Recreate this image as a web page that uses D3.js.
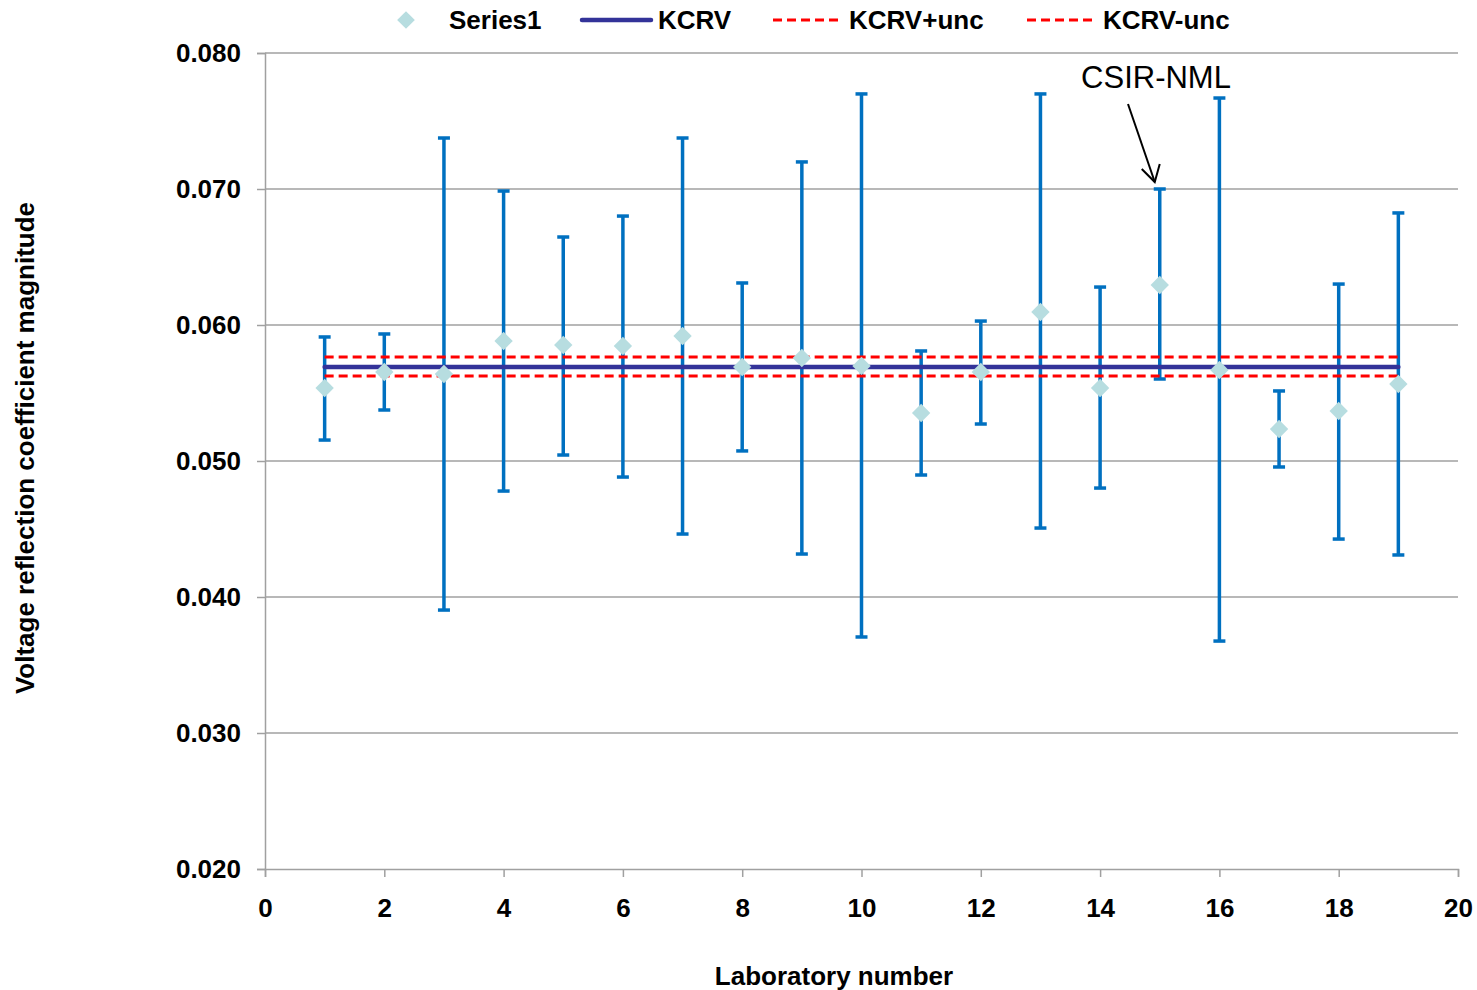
<!DOCTYPE html>
<html>
<head>
<meta charset="utf-8">
<script src="https://cdn.jsdelivr.net/npm/d3@7"></script>
<style>
  body { margin: 0; background: #fff; }
  svg { font-family: "Liberation Sans", Arial, sans-serif; }
</style>
</head>
<body>
<div id="chart"></div>
<script>
  // values
  var labs = [1, 2, 3, 4, 5, 6, 7, 8, 9, 10, 11, 12, 13, 14, 15, 16, 17, 18, 19];
  var values = [0.05537, 0.05654, 0.05640, 0.05882, 0.05853, 0.05846, 0.05919, 0.05691, 0.05757, 0.05699,
                0.05353, 0.05654, 0.06096, 0.05537, 0.06294, 0.05669, 0.05235, 0.05368, 0.05566];
  var upper = [0.05912, 0.05934, 0.07375, 0.06985, 0.06647, 0.06801, 0.07375, 0.06309, 0.07199, 0.07699,
               0.05809, 0.06029, 0.07699, 0.06279, 0.07000, 0.07669, 0.05515, 0.06301, 0.06824];
  var lower = [0.05154, 0.05375, 0.03904, 0.04779, 0.05044, 0.04882, 0.04463, 0.05074, 0.04316, 0.03706,
               0.04897, 0.05272, 0.04507, 0.04801, 0.05603, 0.03676, 0.04956, 0.04426, 0.04309];
  var kcrv = 0.05691;
  var kcrvPlus = 0.05765;
  var kcrvMinus = 0.05625;
  var xTicks = [0, 2, 4, 6, 8, 10, 12, 14, 16, 18, 20];
  var yTicks = [0.020, 0.030, 0.040, 0.050, 0.060, 0.070, 0.080];
  var legendNames = ["Series1", "KCRV", "KCRV+unc", "KCRV-unc"];

  var width = 1477, height = 990;
  var svg = d3.select('#chart').append('svg').attr('width', width).attr('height', height);

  var x = d3.scaleLinear().domain([0, 20]).range([265, 1458]);
  var y = d3.scaleLinear().domain([0.020, 0.080]).range([869, 53]);

  var grey = "#a0a0a0";
  var fs = '26px';

  // gridlines
  svg.append('g').selectAll('line').data(yTicks.slice(1)).enter().append('line')
      .attr('x1', x(0)).attr('x2', x(20))
      .attr('y1', d => y(d)).attr('y2', d => y(d))
      .attr('stroke', grey).attr('stroke-width', 1.5);

  // axes
  var yAxis = svg.append('g').attr('transform', 'translate(' + x(0) + ',0)')
      .call(d3.axisLeft(y).tickValues(yTicks).tickFormat(d3.format('.3f')).tickSize(8).tickPadding(16));
  var xAxis = svg.append('g').attr('transform', 'translate(0,' + y(0.020) + ')')
      .call(d3.axisBottom(x).tickValues(xTicks).tickSize(8).tickPadding(22));
  [yAxis, xAxis].forEach(function (a) {
    a.select('.domain').attr('stroke', grey).attr('stroke-width', 1.5);
    a.selectAll('.tick line').attr('stroke', grey).attr('stroke-width', 1.5);
    a.selectAll('.tick text').attr('fill', '#000').style('font-size', fs).style('font-weight', 'bold')
        .style('font-family', '"Liberation Sans", Arial, sans-serif');
  });

  var data = labs.map((d, i) => ({ lab: d, v: values[i], hi: upper[i], lo: lower[i] }));

  // error bars
  var eb = svg.append('g').attr('stroke', '#0070c0').attr('stroke-width', 3.5);
  eb.selectAll('.bar').data(data).enter().append('line')
      .attr('x1', d => x(d.lab)).attr('x2', d => x(d.lab))
      .attr('y1', d => y(d.hi)).attr('y2', d => y(d.lo));
  eb.selectAll('.capT').data(data).enter().append('line')
      .attr('x1', d => x(d.lab) - 6).attr('x2', d => x(d.lab) + 6)
      .attr('y1', d => y(d.hi)).attr('y2', d => y(d.hi));
  eb.selectAll('.capB').data(data).enter().append('line')
      .attr('x1', d => x(d.lab) - 6).attr('x2', d => x(d.lab) + 6)
      .attr('y1', d => y(d.lo)).attr('y2', d => y(d.lo));

  // reference lines
  var x0 = x(labs[0]), x1 = x(labs[labs.length - 1]);
  svg.append('line').attr('x1', x0).attr('x2', x1).attr('y1', y(kcrv)).attr('y2', y(kcrv))
      .attr('stroke', '#333399').attr('stroke-width', 4.5).attr('stroke-linecap', 'round');
  [kcrvPlus, kcrvMinus].forEach(function (v) {
    svg.append('line').attr('x1', x0).attr('x2', x1).attr('y1', y(v)).attr('y2', y(v))
        .attr('stroke', '#ff0000').attr('stroke-width', 3).attr('stroke-dasharray', '9,5');
  });

  // markers
  var diamond = d3.symbol().type(d3.symbolDiamond2).size(215);
  svg.append('g').selectAll('path').data(data).enter().append('path')
      .attr('d', diamond)
      .attr('transform', d => 'translate(' + x(d.lab) + ',' + y(d.v) + ')')
      .attr('fill', '#b7dde0');

  // axis titles
  svg.append('text').attr('x', 834).attr('y', 985).attr('text-anchor', 'middle')
      .style('font-size', fs).style('font-weight', 'bold').text('Laboratory number');
  svg.append('text').attr('transform', 'translate(34,448) rotate(-90)').attr('text-anchor', 'middle')
      .style('font-size', fs).style('font-weight', 'bold').text('Voltage reflection coefficient magnitude');

  // annotation
  svg.append('text').attr('x', 1156).attr('y', 88).attr('text-anchor', 'middle')
      .style('font-size', '31px').text('CSIR-NML');
  var ax = x(15) - 5, ay = y(upper[14]) - 7;
  svg.append('line').attr('x1', 1128).attr('y1', 104).attr('x2', ax).attr('y2', ay)
      .attr('stroke', '#000').attr('stroke-width', 2);
  svg.append('path').attr('d', 'M' + (ax - 13) + ',' + (ay - 13) + 'L' + ax + ',' + ay + 'L' + (ax + 5) + ',' + (ay - 18))
      .attr('fill', 'none').attr('stroke', '#000').attr('stroke-width', 2);

  // legend
  var lg = svg.append('g').style('font-size', fs).style('font-weight', 'bold');
  lg.append('path').attr('d', d3.symbol().type(d3.symbolDiamond2).size(200))
      .attr('transform', 'translate(406,20)').attr('fill', '#b7dde0');
  lg.append('text').attr('x', 449).attr('y', 29).text(legendNames[0]);
  lg.append('line').attr('x1', 582).attr('x2', 651).attr('y1', 20).attr('y2', 20)
      .attr('stroke', '#333399').attr('stroke-width', 4.5).attr('stroke-linecap', 'round');
  lg.append('text').attr('x', 658).attr('y', 29).text(legendNames[1]);
  lg.append('line').attr('x1', 773).attr('x2', 843).attr('y1', 20).attr('y2', 20)
      .attr('stroke', '#ff0000').attr('stroke-width', 3).attr('stroke-dasharray', '9,5');
  lg.append('text').attr('x', 849).attr('y', 29).text(legendNames[2]);
  lg.append('line').attr('x1', 1027).attr('x2', 1097).attr('y1', 20).attr('y2', 20)
      .attr('stroke', '#ff0000').attr('stroke-width', 3).attr('stroke-dasharray', '9,5');
  lg.append('text').attr('x', 1103).attr('y', 29).text(legendNames[3]);
</script>
</body>
</html>
